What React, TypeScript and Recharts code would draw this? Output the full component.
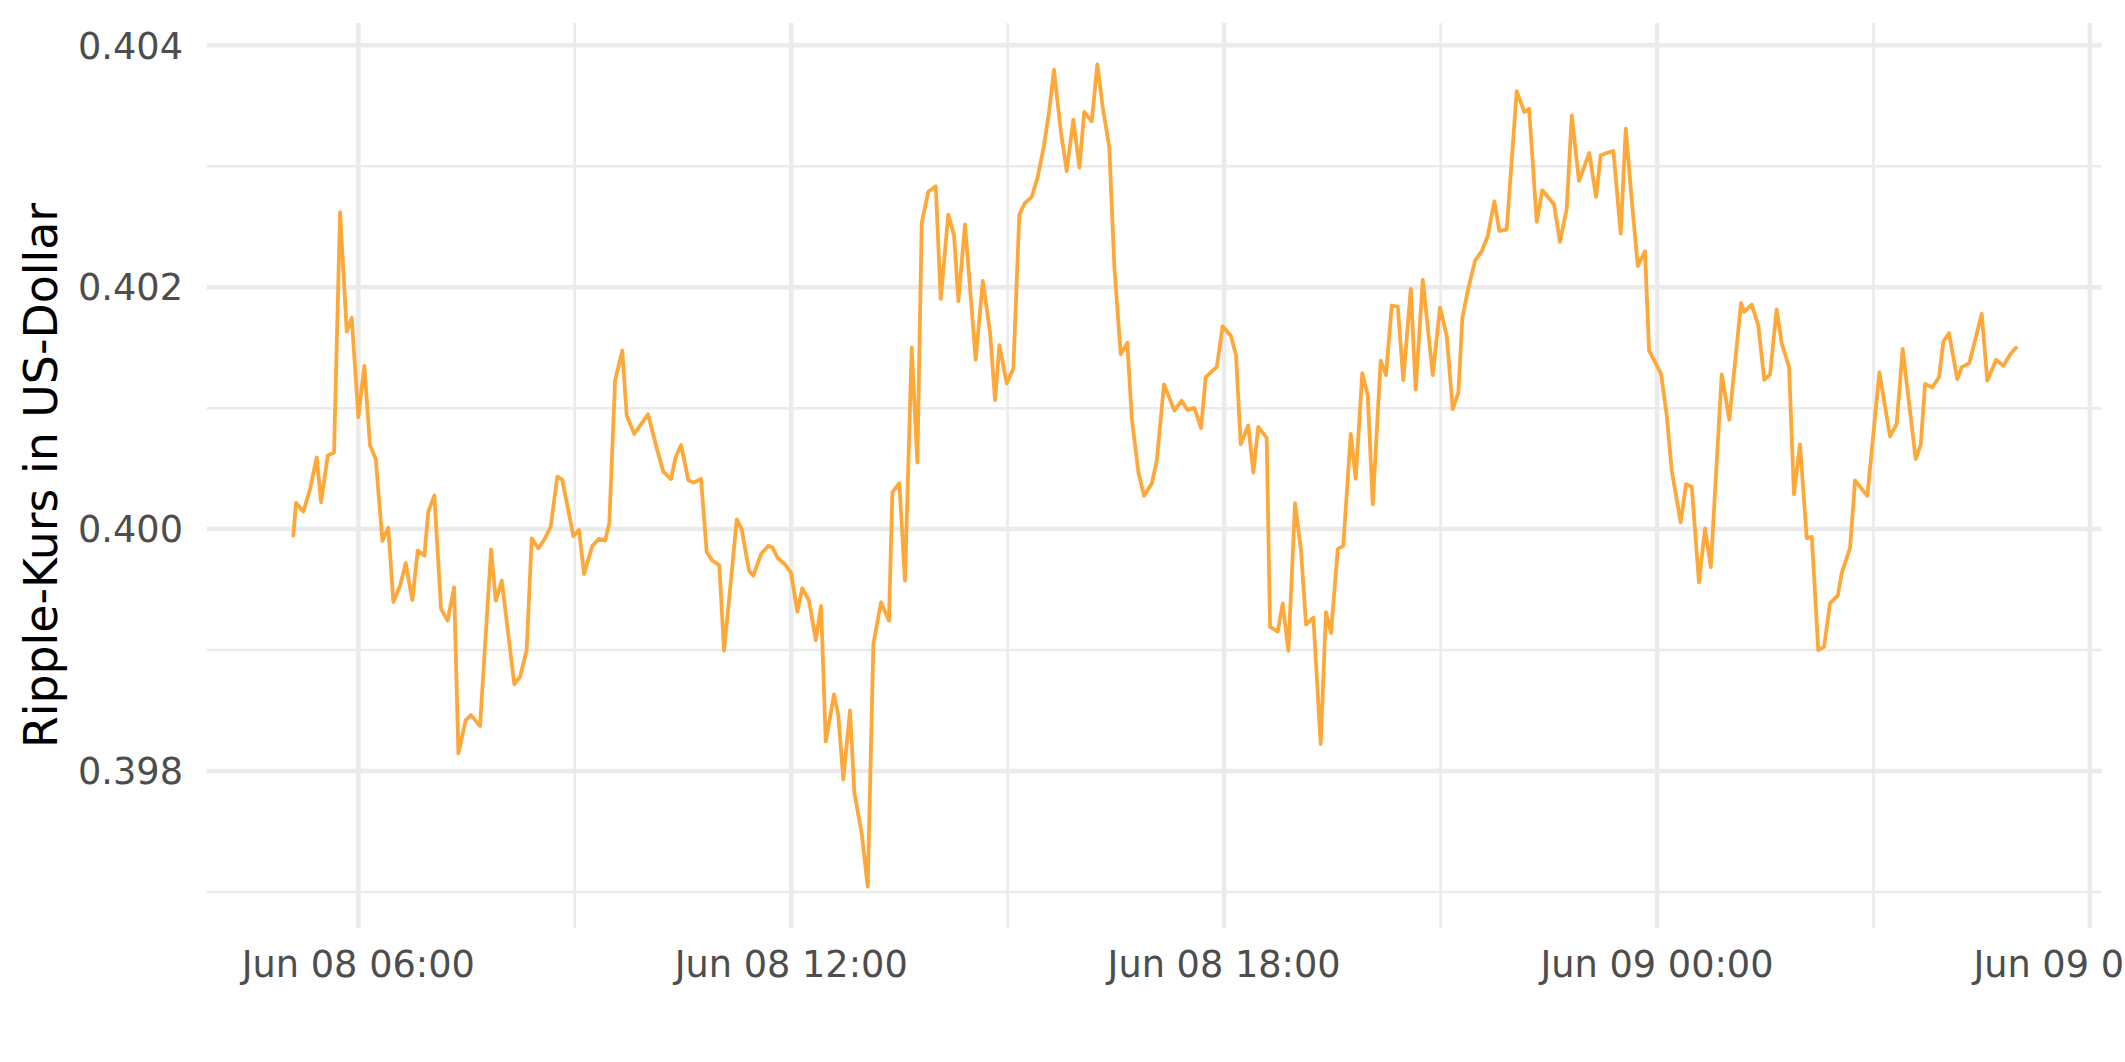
import React from "react";
import { LineChart, Line, XAxis, YAxis, CartesianGrid } from "recharts";

// minutes since Jun 08 00:00
const times: number[] = [
  305.9, 308.2, 314.3, 319.8, 325.4, 329.0, 334.6, 339.8, 344.8, 350.4,
  354.5, 360.0, 365.0, 369.7, 374.5, 380.0, 384.9, 389.1, 394.7, 399.4,
  404.9, 409.4, 414.9, 418.2, 423.2, 428.8, 434.3, 439.6, 443.2, 449.3,
  453.7, 461.2, 470.4, 474.3, 479.3, 489.7, 494.5, 500.0, 504.2, 509.7,
  515.3, 520.0, 525.5, 529.6, 538.8, 543.5, 547.7, 554.6, 560.2, 565.2,
  568.7, 573.5, 579.5, 583.2, 589.5, 600.9, 608.2, 613.6, 620.0, 624.0,
  628.4, 634.4, 638.6, 645.0, 649.7, 654.4, 660.2, 664.1, 669.1, 674.7,
  678.8, 684.9, 688.5, 694.9, 701.0, 704.6, 708.8, 714.8, 719.8, 725.1,
  729.2, 734.8, 740.4, 744.8, 748.7, 755.6, 759.2, 763.3, 768.9, 772.5,
  778.6, 783.6, 788.3, 794.7, 801.3, 804.1, 809.9, 814.6, 820.2, 824.9,
  828.5, 834.0, 840.2, 844.3, 850.6, 855.4, 859.0, 864.5, 873.4, 879.3,
  885.3, 889.5, 893.1, 899.2, 904.7, 909.7, 914.4, 920.0, 925.0, 930.2,
  934.6, 938.5, 944.1, 949.1, 954.6, 959.6, 963.7, 969.9, 974.6, 979.0,
  984.5, 988.7, 994.0, 999.5, 1003.2, 1008.7, 1013.4, 1019.8, 1024.0, 1030.0,
  1038.6, 1044.7, 1049.4, 1055.2, 1060.8, 1064.7, 1073.9, 1078.8, 1085.7, 1089.9,
  1093.8, 1100.1, 1104.3, 1108.4, 1115.4, 1118.2, 1124.6, 1128.7, 1133.4, 1139.0,
  1144.0, 1148.1, 1154.2, 1160.3, 1164.7, 1168.9, 1174.5, 1179.1, 1185.3, 1189.4,
  1194.9, 1199.4, 1203.6, 1210.2, 1214.6, 1219.4, 1224.4, 1229.0, 1235.2, 1239.3,
  1245.2, 1253.5, 1259.5, 1265.1, 1270.1, 1274.8, 1278.1, 1283.1, 1288.7, 1294.2,
  1299.2, 1304.7, 1308.9, 1315.0, 1323.3, 1329.7, 1333.6, 1340.0, 1344.6, 1354.3,
  1359.3, 1364.9, 1369.1, 1375.1, 1383.7, 1389.3, 1393.2, 1398.2, 1403.7, 1409.8,
  1414.0, 1419.0, 1424.0, 1430.0, 1433.4, 1443.3, 1448.1, 1452.2, 1459.7, 1464.1,
  1468.9, 1474.9, 1479.9, 1484.7, 1493.8, 1500.1, 1509.9, 1512.4, 1518.8, 1524.2,
  1529.2, 1534.0, 1539.5, 1543.7, 1549.8, 1553.9, 1558.9, 1564.5, 1568.7, 1574.1,
  1578.9, 1583.9, 1590.3, 1593.6, 1600.5, 1604.7, 1614.9, 1624.9, 1633.8, 1639.3,
  1644.3, 1655.1, 1659.3, 1662.9, 1668.9, 1674.5, 1678.1, 1682.8, 1689.7, 1693.4,
  1699.7, 1710.0, 1714.7, 1722.0, 1728.0, 1734.0, 1738.5,
];

const prices: number[] = [
  0.399946, 0.400216, 0.400145, 0.40033, 0.400592, 0.400222, 0.400609, 0.400634, 0.40262, 0.401633,
  0.401747, 0.400927, 0.401349, 0.400694, 0.40058, 0.399903, 0.400011, 0.399397, 0.399533, 0.399718,
  0.399414, 0.399824, 0.399781, 0.400145, 0.400279, 0.39934, 0.399243, 0.399519, 0.398145, 0.398421,
  0.398462, 0.398371, 0.399833, 0.399408, 0.399574, 0.398716, 0.398779, 0.399, 0.399924, 0.399841,
  0.399924, 0.400021, 0.400434, 0.400407, 0.399943, 0.399993, 0.399629, 0.399861, 0.399919, 0.399905,
  0.400048, 0.401229, 0.401477, 0.400937, 0.400787, 0.40095, 0.400668, 0.400475, 0.400414, 0.400599,
  0.400696, 0.400406, 0.400384, 0.400414, 0.399813, 0.399739, 0.399703, 0.398995, 0.399497, 0.400081,
  0.4, 0.399656, 0.399615, 0.399794, 0.399863, 0.399846, 0.399759, 0.399709, 0.39964, 0.399317,
  0.399511, 0.399408, 0.399082, 0.399364, 0.398244, 0.398634, 0.398455, 0.397931, 0.3985, 0.397819,
  0.397483, 0.397044, 0.39905, 0.399395, 0.399243, 0.400304, 0.40038, 0.399574, 0.4015, 0.40055,
  0.40253, 0.40279, 0.402834, 0.401903, 0.402601, 0.402431, 0.401885, 0.40252, 0.401402, 0.402052,
  0.401631, 0.401066, 0.401521, 0.401204, 0.401328, 0.402603, 0.402697, 0.402747, 0.402912, 0.403174,
  0.403463, 0.403799, 0.403298, 0.402961, 0.403386, 0.402989, 0.403449, 0.403372, 0.403843, 0.40349,
  0.40316, 0.402168, 0.401446, 0.40154, 0.400915, 0.40047, 0.400275, 0.400376, 0.400566, 0.401197,
  0.40098, 0.401062, 0.400986, 0.401002, 0.400836, 0.401257, 0.401341, 0.401678, 0.401597, 0.401437,
  0.400701, 0.400857, 0.400467, 0.400845, 0.400755, 0.399192, 0.399153, 0.399385, 0.398994, 0.400214,
  0.399814, 0.39921, 0.399268, 0.398223, 0.399313, 0.399141, 0.399834, 0.399861, 0.400787, 0.400416,
  0.40129, 0.401109, 0.400204, 0.401393, 0.401273, 0.401849, 0.401839, 0.401232, 0.401986, 0.401153,
  0.402062, 0.401273, 0.401832, 0.401599, 0.400992, 0.401129, 0.401746, 0.401993, 0.40222, 0.402298,
  0.402422, 0.402711, 0.402466, 0.402477, 0.403622, 0.403449, 0.403476, 0.40254, 0.402802, 0.402686,
  0.402375, 0.40265, 0.403421, 0.402879, 0.40311, 0.402747, 0.403091, 0.40311, 0.403127, 0.402444,
  0.403311, 0.402719, 0.402174, 0.402298, 0.401475, 0.401286, 0.400941, 0.400485, 0.400056, 0.400371,
  0.40035, 0.39956, 0.400005, 0.399686, 0.40128, 0.400905, 0.401871, 0.401796, 0.401856, 0.401685,
  0.401235, 0.401277, 0.401817, 0.401535, 0.40134, 0.400287, 0.400701, 0.399926, 0.399936, 0.398999,
  0.399026, 0.399388, 0.399449, 0.399636, 0.399843, 0.400402, 0.400275, 0.401295, 0.400766, 0.400871,
  0.40149, 0.400579, 0.400697, 0.401201, 0.401171, 0.401256, 0.401551, 0.40162, 0.40124, 0.401339,
  0.401372, 0.40178, 0.401226, 0.4014, 0.40135, 0.40145, 0.4015,
];

const xTicks: number[] = [360, 720, 1080, 1440, 1800];
const xTickLabels: string[] = ["Jun 08 06:00", "Jun 08 12:00", "Jun 08 18:00", "Jun 09 00:00", "Jun 09 06:00"];
const xMinor: number[] = [540, 900, 1260, 1620];
const yTicks: number[] = [0.398, 0.4, 0.402, 0.404];
const yTickLabels: string[] = ["0.398", "0.400", "0.402", "0.404"];
const yMinor: number[] = [0.397, 0.399, 0.401, 0.403];

const data = times.map((t, i) => ({ t, price: prices[i] }));

const FONT = "'DejaVu Sans', Verdana, sans-serif";

const YTick = (props: any) => {
  const { x, y, payload } = props;
  const idx = yTicks.indexOf(payload.value);
  return (
    <text x={x - 23.7} y={y} dy="0.36em" textAnchor="end" fill="#4D4D4D" fontSize={36.7} fontFamily={FONT}>
      {idx >= 0 ? yTickLabels[idx] : String(payload.value)}
    </text>
  );
};

const XTick = (props: any) => {
  const { x, y, payload } = props;
  const idx = xTicks.indexOf(payload.value);
  return (
    <text x={x} y={y + 49} textAnchor="middle" fill="#4D4D4D" fontSize={36.7} fontFamily={FONT}>
      {idx >= 0 ? xTickLabels[idx] : String(payload.value)}
    </text>
  );
};

const YTitle = (props: any) => {
  const vb = props.viewBox || { x: 0, y: 23, height: 905 };
  const cx = 56.7;
  const cy = vb.y + vb.height / 2;
  return (
    <text x={cx} y={cy} transform={`rotate(-90, ${cx}, ${cy})`} textAnchor="middle" fill="#000000" fontSize={45.8} fontFamily={FONT}>
      Ripple-Kurs in US-Dollar
    </text>
  );
};

export default function App() {
  return (
    <div style={{ position: "fixed", left: 0, top: 0, width: 2125, height: 1062, overflow: "hidden", background: "#ffffff" }}>
      <LineChart width={2125} height={1062} data={data} margin={{ top: 23, right: 23.3, left: 0, bottom: 0 }}>
        <CartesianGrid horizontalValues={yMinor} verticalValues={xMinor} stroke="#EBEBEB" strokeWidth={2.5} />
        <CartesianGrid horizontalValues={yTicks} verticalValues={xTicks} stroke="#EBEBEB" strokeWidth={4.5} />
        <XAxis
          dataKey="t"
          type="number"
          domain={[233.9, 1809.8]}
          ticks={xTicks}
          allowDataOverflow
          axisLine={false}
          tickLine={false}
          tickSize={0}
          tickMargin={0}
          height={134}
          tick={<XTick />}
          interval={0}
        />
        <YAxis
          type="number"
          domain={[0.3967015, 0.404185]}
          ticks={yTicks}
          allowDataOverflow
          axisLine={false}
          tickLine={false}
          tickSize={0}
          tickMargin={0}
          width={206.7}
          tick={<YTick />}
          interval={0}
          label={{ content: <YTitle /> }}
        />
        <Line
          type="linear"
          dataKey="price"
          stroke="#FFA83A"
          strokeWidth={3.8}
          dot={false}
          isAnimationActive={false}
          strokeLinejoin="round"
          strokeLinecap="round"
        />
      </LineChart>
    </div>
  );
}
